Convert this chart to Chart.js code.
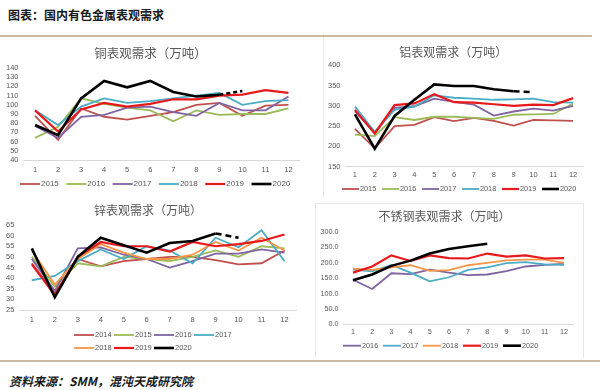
<!DOCTYPE html>
<html>
<head>
<meta charset="utf-8">
<script src="https://cdn.jsdelivr.net/npm/chart.js@4.4.0/dist/chart.umd.min.js"></script>
<style>
body { margin: 0; width: 600px; height: 390px; background: #fff; position: relative; overflow: hidden; font-family: "Noto Sans CJK SC", sans-serif; }
canvas { position: absolute; }
.rule { position: absolute; background: #c9baa3; height: 2px; }
.edge { position: absolute; background: #e8e8e8; }
#head { position: absolute; left: 8px; top: 8px; font-size: 12px; line-height: 13px; font-weight: bold; color: #1a1a1a; }
#source { position: absolute; left: 9px; top: 374px; font-size: 12px; line-height: 14px; font-weight: bold; font-style: italic; color: #1a1a1a; }
</style>
</head>
<body>
<div id="head">图表：国内有色金属表观需求</div>
<div class="rule" style="left:0;top:35px;width:592px;"></div>
<div class="edge" style="left:323px;top:37px;width:1px;height:160px;"></div>
<div class="edge" style="left:315px;top:203px;width:268px;height:1px;"></div>
<div class="edge" style="left:315px;top:203px;width:1px;height:155px;"></div>
<div class="edge" style="left:583px;top:203px;width:1px;height:155px;"></div>
<canvas id="cu" width="300" height="160" style="left:0;top:40px;"></canvas>
<canvas id="al" width="270" height="160" style="left:323px;top:40px;"></canvas>
<canvas id="zn" width="300" height="160" style="left:0;top:200px;"></canvas>
<canvas id="ss" width="268" height="150" style="left:315px;top:205px;"></canvas>
<div class="rule" style="left:0;top:360px;width:600px;"></div>
<div id="source">资料来源：SMM，混沌天成研究院</div>

<script>
var months = ['1', '2', '3', '4', '5', '6', '7', '8', '9', '10', '11', '12'];

// 铜
var cuYears = ['2015', '2016', '2017', '2018', '2019', '2020'];
var cu2015 = [88, 62, 96, 87, 84, 88, 92, 100, 102, 88, 99, 100];
var cu2016 = [64, 76, 107, 101, 97, 94, 82, 94, 89, 90, 90, 96];
var cu2017 = [77, 64, 87, 89, 97, 98, 92, 88, 102, 94, 94, 109];
var cu2018 = [94, 78, 98, 107, 102, 104, 107, 110, 113, 100, 104, 105];
var cu2019 = [94, 71, 95, 102, 98, 101, 106, 106, 110, 111, 116, 113];
var cu2020 = [78, 67, 107, 126, 119, 126, 114, 109, 111, 115];

// 铝
var alYears = ['2015', '2016', '2017', '2018', '2019', '2020'];
var al2015 = [243, 195, 250, 253, 272, 262, 270, 263, 251, 265, 264, 263];
var al2016 = [229, 225, 272, 265, 273, 273, 270, 268, 278, 279, 280, 305];
var al2017 = [287, 232, 295, 299, 318, 310, 303, 276, 286, 293, 288, 300];
var al2018 = [298, 236, 290, 298, 326, 320, 318, 315, 316, 318, 309, 308];
var al2019 = [290, 232, 302, 306, 329, 309, 308, 304, 300, 303, 302, 319];
var al2020 = [279, 194, 275, 315, 353, 349, 349, 341, 336, 334];

// 锌
var znYears = ['2014', '2015', '2016', '2017', '2018', '2019', '2020'];
var zn2014 = [47, 33, 49, 45.5, 48, 49, 50, 50, 48.5, 46.5, 47, 53];
var zn2015 = [50, 36, 47, 45.5, 50, 49, 48, 50, 53, 50, 55, 54];
var zn2016 = [49, 34, 54, 54.5, 51, 49, 45, 48, 51.5, 51.5, 53.5, 52];
var zn2017 = [39, 41, 48, 53.5, 49, 55, 53, 47, 59, 54.5, 62.5, 48];
var zn2018 = [53, 37, 49, 56, 52, 49, 49, 51, 57, 53, 59, 53];
var zn2019 = [46.5, 32, 50, 57, 55, 55, 52.5, 57, 55, 56, 57.5, 60.5];
var zn2020 = [54, 31, 50, 59, 55.5, 52, 56.5, 57.5, 61, 59];

// 不锈钢
var ssYears = ['2016', '2017', '2018', '2019', '2020'];
var ss2016 = [145, 115, 166, 163, 178, 168, 160, 162, 173, 188, 193, 196];
var ss2017 = [178, 172, 193, 168, 140, 153, 177, 185, 199, 202, 195, 193];
var ss2018 = [181, 177, 185, 192, 174, 176, 192, 200, 208, 210, 210, 200];
var ss2019 = [168, 188, 224, 206, 224, 215, 214, 230, 220, 224, 214, 215];
var ss2020 = [143, 162, 190, 207, 230, 245, 254, 262];

// colours follow series order (office palette), last two are always 2019 red / 2020 black
var cuColors = ['#c0504d', '#9bbb59', '#8064a2', '#4bacc6', '#e8191b', '#000000'];
var alColors = ['#c0504d', '#9bbb59', '#8064a2', '#4bacc6', '#e8191b', '#000000'];
var znColors = ['#c0504d', '#9bbb59', '#8064a2', '#4bacc6', '#f79646', '#e8191b', '#000000'];
var ssColors = ['#8064a2', '#4bacc6', '#f79646', '#e8191b', '#000000'];
var yearWidth = { '2019': 2.2, '2020': 2.6 };

Chart.defaults.font.family = '"Liberation Sans", Arial, sans-serif';
Chart.defaults.color = '#595959';

// legend drawn as rows of short lines + year text
var lineLegend = {
    id: 'lineLegend',
    afterDraw: function(chart, args, opts) {
        if (!opts.rows) return;
        var ctx = chart.ctx;
        var sets = chart.data.datasets;
        ctx.save();
        ctx.font = opts.size + 'px "Liberation Sans", Arial, sans-serif';
        ctx.textBaseline = 'middle';
        opts.rows.forEach(function(row, r) {
            var y = opts.y[r];
            row.forEach(function(i, k) {
                var x = opts.x + k * opts.step;
                ctx.strokeStyle = sets[i].borderColor;
                ctx.lineWidth = sets[i].borderWidth;
                ctx.beginPath();
                ctx.moveTo(x, y);
                ctx.lineTo(x + opts.len, y);
                ctx.stroke();
                ctx.fillStyle = '#595959';
                ctx.fillText(sets[i].label, x + opts.len + 1, y);
            });
        });
        ctx.restore();
    }
};
Chart.register(lineLegend);

function makeSets(years, series, colors, dash, dashFrom) {
    return years.map(function(yr, i) {
        return {
            label: yr,
            data: series[i],
            borderColor: colors[i],
            backgroundColor: colors[i],
            borderWidth: yearWidth[yr] || 1.8,
            pointRadius: 0,
            tension: 0,
            order: years.length - i,
            segment: {
                borderDash: function(c) {
                    return (yr === '2020' && dashFrom != null && c.p0DataIndex >= dashFrom) ? dash : undefined;
                }
            }
        };
    });
}

function makeChart(id, title, sets, cfg) {
    var tickFont = { size: cfg.tick, family: '"Liberation Sans", Arial, sans-serif' };
    return new Chart(document.getElementById(id), {
        type: 'line',
        data: { labels: months, datasets: sets },
        options: {
            responsive: false,
            animation: false,
            devicePixelRatio: 1,
            layout: { padding: cfg.pad },
            plugins: {
                legend: { display: false },
                tooltip: { enabled: false },
                title: {
                    display: true,
                    text: title,
                    color: '#595959',
                    font: { family: '"Noto Sans CJK SC", sans-serif', size: cfg.titleSize, weight: 'normal' },
                    padding: cfg.titlePad
                },
                lineLegend: cfg.legend
            },
            scales: {
                x: {
                    offset: true,
                    grid: { display: false, drawTicks: false },
                    border: { color: '#d9d9d9' },
                    ticks: { font: tickFont, padding: cfg.xPad, maxRotation: 0, autoSkip: false }
                },
                y: {
                    min: cfg.min,
                    max: cfg.max,
                    grid: { display: false, drawTicks: false },
                    border: { display: false },
                    ticks: {
                        font: tickFont, stepSize: cfg.step, padding: cfg.yPad, autoSkip: false,
                        callback: cfg.fmt || function(v) { return v; }
                    }
                }
            }
        }
    });
}

makeChart('cu', '铜表观需求（万吨）',
    makeSets(cuYears, [cu2015, cu2016, cu2017, cu2018, cu2019, cu2020], cuColors, [4, 3], 8), {
    tick: 7.5, titleSize: 12.5, titlePad: { top: 6, bottom: 7 },
    pad: { left: 1, right: 0, top: 0, bottom: 21 }, xPad: 5, yPad: 5,
    min: 40, max: 140, step: 10,
    legend: { rows: [[0, 1, 2, 3, 4, 5]], y: [144], x: 20, step: 46.3, len: 20, size: 8 }
});

makeChart('al', '铝表观需求（万吨）',
    makeSets(alYears, [al2015, al2016, al2017, al2018, al2019, al2020], alColors, [6, 4], 8), {
    tick: 7.5, titleSize: 12, titlePad: { top: 5, bottom: 6 },
    pad: { left: 0.5, right: 10, top: 0, bottom: 16.5 }, xPad: 4, yPad: 4.5,
    min: 150, max: 400, step: 50,
    legend: { rows: [[0, 1, 2, 3, 4, 5]], y: [149], x: 19, step: 40, len: 17, size: 7.3 }
});

makeChart('zn', '锌表观需求（万吨）',
    makeSets(znYears, [zn2014, zn2015, zn2016, zn2017, zn2018, zn2019, zn2020], znColors, [6, 4], 8), {
    tick: 7.5, titleSize: 12, titlePad: { top: 3, bottom: 7.6 },
    pad: { left: 0, right: 4, top: 0, bottom: 30 }, xPad: 5.5, yPad: 6,
    min: 25, max: 65, step: 5,
    legend: { rows: [[0, 1, 2, 3], [4, 5, 6]], y: [135, 148], x: 74, step: 40, len: 20, size: 7.5 }
});

makeChart('ss', '不锈钢表观需求（万吨）',
    makeSets(ssYears, [ss2016, ss2017, ss2018, ss2019, ss2020], ssColors, [6, 4], null), {
    tick: 7.2, titleSize: 12, titlePad: { top: 4, bottom: 8.6 },
    pad: { left: 0.4, right: 9.4, top: 0, bottom: 15 }, xPad: 3.5, yPad: 5,
    min: 0, max: 300, step: 50,
    fmt: function(v) { return v.toFixed(1); },
    legend: { rows: [[0, 1, 2, 3, 4]], y: [140.7], x: 28, step: 40, len: 18, size: 7.3 }
});
</script>
</body>
</html>
